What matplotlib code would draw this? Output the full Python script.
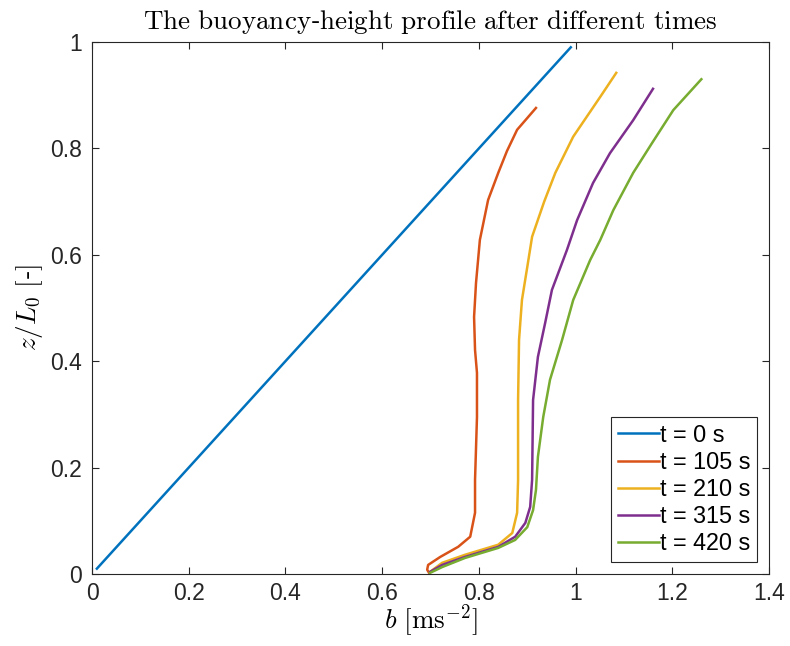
import numpy as np
import matplotlib
matplotlib.use('Agg')
import matplotlib.pyplot as plt

plt.rcParams['font.family'] = ['Liberation Sans', 'DejaVu Sans']
plt.rcParams['mathtext.fontset'] = 'cm'

# profiles (b, z/L0)
labels = ['t = 0 s', 't = 105 s', 't = 210 s', 't = 315 s', 't = 420 s']
colors = ['#0072BD', '#D95319', '#EDB120', '#7E2F8E', '#77AC30']

b_0 = [0.01, 0.99]
z_0 = [0.01, 0.99]

b_105 = [0.697, 0.693, 0.695, 0.720, 0.757, 0.782, 0.792, 0.792, 0.792, 0.796,
         0.796, 0.792, 0.790, 0.794, 0.802, 0.819, 0.840, 0.858, 0.879, 0.918]
z_105 = [0.002, 0.008, 0.017, 0.032, 0.051, 0.070, 0.115, 0.158, 0.177, 0.295,
         0.378, 0.421, 0.483, 0.547, 0.628, 0.703, 0.754, 0.795, 0.835, 0.876]

b_210 = [0.699, 0.724, 0.771, 0.840, 0.869, 0.879, 0.881, 0.881, 0.883, 0.889,
         0.900, 0.910, 0.935, 0.958, 0.995, 1.051, 1.084]
z_210 = [0.004, 0.021, 0.036, 0.055, 0.077, 0.115, 0.177, 0.327, 0.440, 0.515,
         0.577, 0.634, 0.700, 0.754, 0.822, 0.897, 0.942]

b_315 = [0.699, 0.724, 0.771, 0.840, 0.875, 0.896, 0.906, 0.910, 0.912, 0.922,
         0.937, 0.951, 0.982, 1.003, 1.036, 1.071, 1.119, 1.160]
z_315 = [0.004, 0.017, 0.032, 0.051, 0.070, 0.096, 0.126, 0.177, 0.327, 0.408,
         0.472, 0.534, 0.609, 0.665, 0.735, 0.791, 0.853, 0.912]

b_420 = [0.699, 0.724, 0.771, 0.840, 0.875, 0.900, 0.912, 0.918, 0.922, 0.933,
         0.947, 0.972, 0.995, 1.030, 1.051, 1.078, 1.119, 1.158, 1.202, 1.260]
z_420 = [0.002, 0.013, 0.030, 0.049, 0.064, 0.088, 0.120, 0.158, 0.220, 0.295,
         0.365, 0.440, 0.515, 0.590, 0.628, 0.684, 0.754, 0.810, 0.872, 0.930]

bs = [b_0, b_105, b_210, b_315, b_420]
zs = [z_0, z_105, z_210, z_315, z_420]

fig = plt.figure(figsize=(7.9, 6.46), dpi=100)
ax = fig.add_axes([0.1165, 0.1115, 0.857, 0.8235])

for b, z, c, lab in zip(bs, zs, colors, labels):
    ax.plot(b, z, color=c, lw=1.8, label=lab, solid_joinstyle='round')

ax.set_xlim(0, 1.4)
ax.set_ylim(0, 1)
ax.set_xticks(np.arange(0, 1.41, 0.2))
ax.set_xticklabels(['0', '0.2', '0.4', '0.6', '0.8', '1', '1.2', '1.4'])
ax.set_yticks(np.arange(0, 1.01, 0.2))
ax.set_yticklabels(['0', '0.2', '0.4', '0.6', '0.8', '1'])
ax.tick_params(direction='in', top=True, right=True, labelsize=16.5,
               colors='#262626', length=5, width=0.8)
ax.tick_params(axis='x', pad=6)
ax.tick_params(axis='y', pad=7)
for s in ax.spines.values():
    s.set_color('#262626')
    s.set_linewidth(0.8)

ax.set_title(r'$\mathrm{The\ buoyancy}$-$\mathrm{height\ profile\ after\ different\ times}$',
             fontsize=19.5, pad=9)
ax.set_xlabel(r'$b\ [\mathrm{ms}^{-2}]$', fontsize=19.5, labelpad=-2)
ax.set_ylabel(r'$z/L_0\ [$-$]$', fontsize=19.5, labelpad=4)

leg = ax.legend(loc='lower right', fontsize=16.8, handlelength=1.75, handletextpad=0.05,
                borderpad=0.3, labelspacing=0.18, fancybox=False, framealpha=1,
                borderaxespad=0.5)
leg.get_frame().set_edgecolor('#262626')
leg.get_frame().set_linewidth(0.8)

fig.savefig('out.png', dpi=100)
